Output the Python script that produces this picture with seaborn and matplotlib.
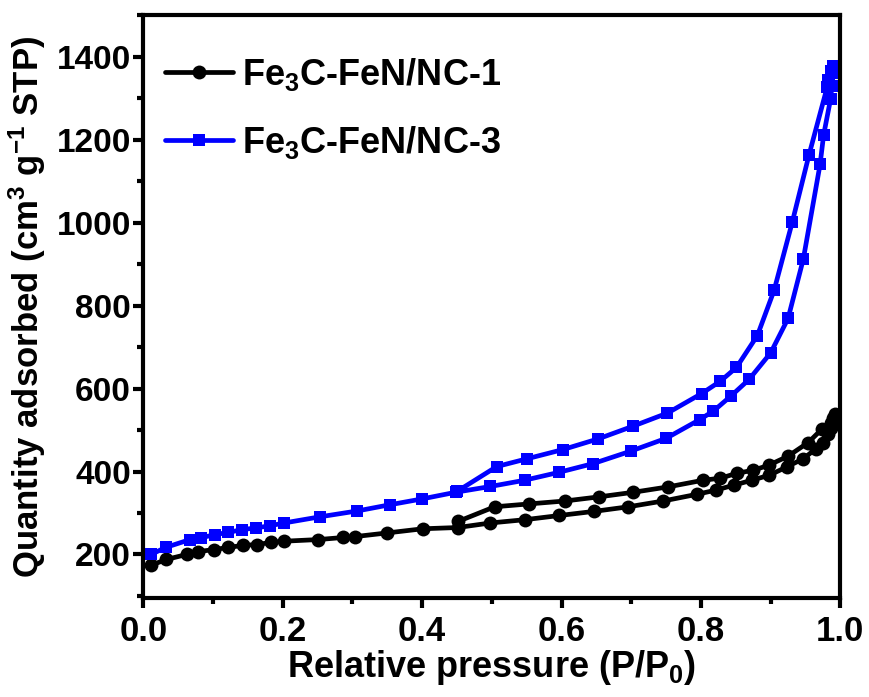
import numpy as np
import pandas as pd
import matplotlib
matplotlib.use('Agg')
import matplotlib.pyplot as plt
import seaborn as sns
from matplotlib.ticker import MultipleLocator, FormatStrFormatter

# N2 isotherms: adsorption branch, then desorption branch
nc1_ads_p = [0.011, 0.033, 0.062, 0.079, 0.102, 0.122, 0.143, 0.163, 0.183, 0.202,
             0.251, 0.287, 0.303, 0.350, 0.401, 0.451, 0.498, 0.548, 0.597, 0.647,
             0.696, 0.746, 0.794, 0.821, 0.847, 0.873, 0.898, 0.923, 0.947, 0.965,
             0.975, 0.982, 0.986, 0.990, 0.993]
nc1_ads_q = [174, 188, 200, 207, 212, 217, 222, 224, 229, 232,
             236, 241, 243, 252, 262, 265, 276, 284, 294, 304,
             315, 329, 345, 355, 367, 379, 391, 411, 431, 455,
             470, 490, 505, 520, 538]
nc1_des_p = [0.990, 0.986, 0.974, 0.954, 0.925, 0.897, 0.875, 0.852, 0.828, 0.803,
             0.753, 0.703, 0.654, 0.605, 0.554, 0.504, 0.452]
nc1_des_q = [530, 518, 503, 470, 437, 415, 403, 396, 384, 379,
             363, 350, 339, 329, 322, 315, 280]

nc3_ads_p = [0.011, 0.032, 0.067, 0.082, 0.103, 0.121, 0.142, 0.161, 0.181, 0.202,
             0.254, 0.307, 0.354, 0.400, 0.448, 0.498, 0.547, 0.596, 0.645, 0.699,
             0.750, 0.798, 0.818, 0.843, 0.869, 0.900, 0.925, 0.947, 0.971, 0.976,
             0.986, 0.988, 0.990, 0.993]
nc3_ads_q = [200, 217, 236, 240, 248, 253, 260, 264, 269, 276,
             291, 305, 320, 334, 350, 364, 379, 398, 419, 449,
             480, 525, 546, 582, 622, 686, 769, 913, 1141, 1211,
             1298, 1330, 1362, 1377]
nc3_des_p = [0.990, 0.986, 0.983, 0.981, 0.955, 0.931, 0.905, 0.881, 0.851, 0.828,
             0.801, 0.752, 0.702, 0.653, 0.602, 0.551, 0.507, 0.450]
nc3_des_q = [1377, 1365, 1345, 1326, 1163, 1001, 837, 728, 651, 618,
             588, 541, 509, 479, 453, 431, 412, 352]

labels = ['Fe$_\\mathbf{3}$C-FeN/NC-1', 'Fe$_\\mathbf{3}$C-FeN/NC-3']
colors = ['#000000', '#0000ff']
markers = ['o', 's']
y_ticks = [200, 400, 600, 800, 1000, 1200, 1400]

sns.set_theme(style='ticks')
plt.rcParams['font.family'] = ['Liberation Sans', 'DejaVu Sans']
plt.rcParams['font.weight'] = 'bold'
plt.rcParams['text.color'] = 'black'
plt.rcParams['axes.labelcolor'] = 'black'
plt.rcParams['axes.edgecolor'] = 'black'
plt.rcParams['xtick.color'] = 'black'
plt.rcParams['ytick.color'] = 'black'
plt.rcParams['mathtext.fontset'] = 'custom'
plt.rcParams['mathtext.rm'] = 'Liberation Sans:bold'
plt.rcParams['mathtext.bf'] = 'Liberation Sans:bold'
plt.rcParams['mathtext.it'] = 'Liberation Sans:bold'

fig = plt.figure(figsize=(8.69, 6.97), dpi=100)
ax = fig.add_axes([0.165, 0.142, 0.802, 0.836])

series = [
    (nc1_ads_p + nc1_des_p, nc1_ads_q + nc1_des_q),
    (nc3_ads_p + nc3_des_p, nc3_ads_q + nc3_des_q),
]
for (p, q), lab, c, m in zip(series, labels, colors, markers):
    df = pd.DataFrame({'p': p, 'q': q})
    sns.lineplot(data=df, x='p', y='q', sort=False, estimator=None, ax=ax,
                 color=c, marker=m, markersize=10 if m == 'o' else 8.5,
                 markeredgecolor=c, markeredgewidth=0, linewidth=3.4, label=lab)

ax.set_xlim(0, 1.0)
ax.set_ylim(95, 1500)
ax.xaxis.set_major_locator(MultipleLocator(0.2))
ax.xaxis.set_minor_locator(MultipleLocator(0.1))
ax.yaxis.set_minor_locator(MultipleLocator(100))
ax.set_yticks(y_ticks)
ax.xaxis.set_major_formatter(FormatStrFormatter('%.1f'))

for s in ax.spines.values():
    s.set_linewidth(3)
ax.tick_params(which='major', direction='out', length=7, width=3, labelsize=24)
ax.tick_params(which='minor', direction='out', length=4, width=3)
ax.tick_params(axis='both', which='both', top=False, right=False)
ax.tick_params(axis='x', labelsize=25, pad=5)
ax.tick_params(axis='y', pad=2)
for t in ax.get_xticklabels() + ax.get_yticklabels():
    t.set_fontweight('bold')

ax.set_xlabel('Relative pressure (P/P$_\\mathbf{0}$)', fontsize=26, fontweight='bold', labelpad=0)
ax.set_ylabel('Quantity adsorbed (cm$^\\mathbf{3}$ g$^\\mathbf{-1}$ STP)', fontsize=25,
              fontweight='bold', labelpad=6)

leg = ax.legend(loc='upper left', bbox_to_anchor=(0.01, 0.955), frameon=False,
                fontsize=26, handlelength=1.9, labelspacing=0.85,
                borderaxespad=0, handletextpad=0.25)
for t in leg.get_texts():
    t.set_fontweight('bold')

fig.savefig('out.png', dpi=100)
